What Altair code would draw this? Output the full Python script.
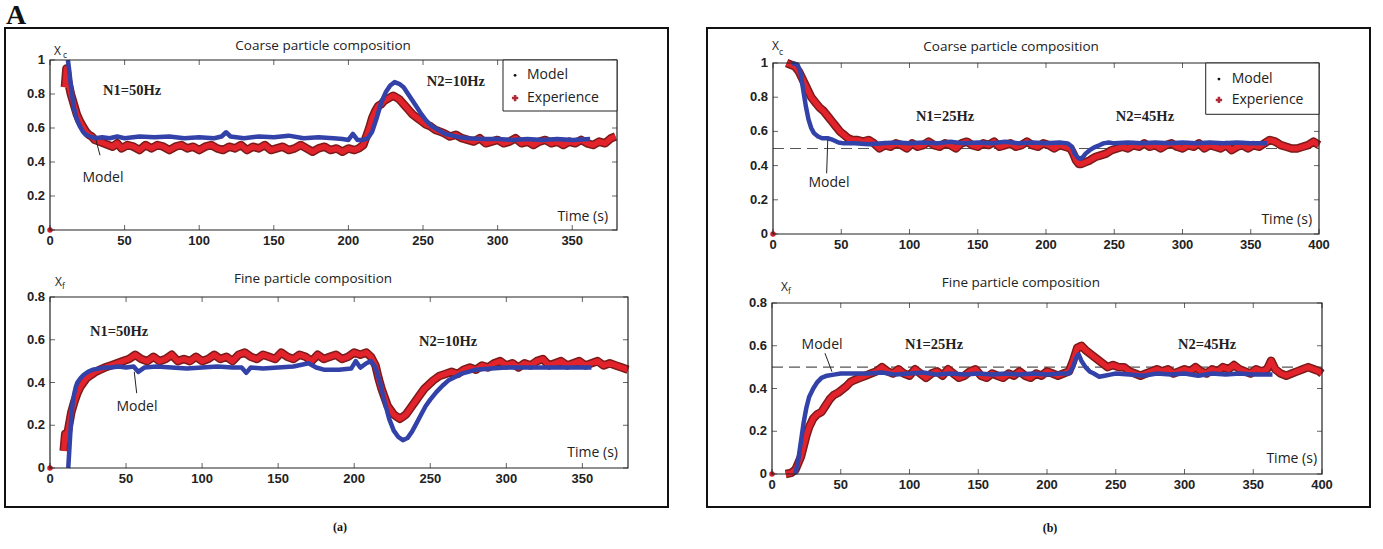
import altair as alt
import pandas as pd

W, H = 1383, 549

# ---------------- data ----------------
# (a) coarse particle composition, N1=50Hz -> N2=10Hz
A_C_EXP_T = [10, 11, 12, 14, 16, 18, 20, 22, 24, 26, 28, 30, 33, 36, 39, 42, 45, 48, 52, 56, 60, 64, 68, 72, 76, 80,
             84, 88, 92, 96, 100, 104, 108, 112, 116, 120, 124, 128, 132, 136, 140, 144, 148, 152, 156, 160, 164, 168,
             172, 176, 180, 184, 188, 192, 196, 200, 204, 207, 210, 212, 214, 216, 218, 220, 222, 224, 226, 228, 230,
             232, 234, 236, 238, 240, 243, 246, 249, 252, 255, 258, 261, 264, 268, 272, 276, 280, 284, 288, 292, 296,
             300, 304, 308, 312, 316, 320, 324, 328, 332, 336, 340, 344, 348, 352, 356, 360, 364, 368, 372, 376, 379]
A_C_EXP_V = [0.84, 0.95, 0.88, 0.80, 0.74, 0.68, 0.64, 0.61, 0.58, 0.56, 0.55, 0.53, 0.52, 0.51, 0.50, 0.49, 0.51,
             0.48, 0.50, 0.49, 0.47, 0.50, 0.48, 0.50, 0.49, 0.47, 0.49, 0.50, 0.48, 0.49, 0.47, 0.49, 0.50, 0.48,
             0.47, 0.49, 0.48, 0.50, 0.47, 0.49, 0.48, 0.50, 0.47, 0.48, 0.49, 0.47, 0.48, 0.50, 0.48, 0.46, 0.48,
             0.49, 0.47, 0.48, 0.46, 0.48, 0.47, 0.48, 0.50, 0.55, 0.60, 0.66, 0.70, 0.73, 0.74, 0.76, 0.77, 0.78,
             0.79, 0.78, 0.77, 0.75, 0.73, 0.71, 0.68, 0.66, 0.64, 0.62, 0.61, 0.59, 0.58, 0.57, 0.55, 0.56, 0.54,
             0.53, 0.52, 0.54, 0.51, 0.52, 0.53, 0.51, 0.52, 0.54, 0.51, 0.52, 0.50, 0.52, 0.53, 0.51, 0.52, 0.50,
             0.52, 0.51, 0.53, 0.51, 0.50, 0.52, 0.51, 0.54, 0.55]
A_C_MOD_T = [12, 13, 14, 15, 16, 18, 20, 22, 24, 27, 30, 35, 40, 45, 50, 60, 70, 80, 90, 100, 110, 115, 118, 121, 130,
             140, 150, 160, 170, 180, 190, 196, 200, 203, 206, 210, 213, 216, 219, 222, 225, 228, 231, 234, 237, 240,
             243, 246, 249, 252, 256, 260, 265, 270, 275, 280, 290, 300, 310, 320, 330, 340, 350, 362]
A_C_MOD_V = [1.0, 0.93, 0.85, 0.78, 0.72, 0.65, 0.61, 0.58, 0.56, 0.55, 0.54, 0.545, 0.54, 0.55, 0.54, 0.55, 0.545,
             0.55, 0.54, 0.545, 0.54, 0.55, 0.575, 0.55, 0.54, 0.55, 0.545, 0.555, 0.54, 0.545, 0.54, 0.535, 0.53,
             0.565, 0.53, 0.53, 0.54, 0.58, 0.66, 0.75, 0.81, 0.85, 0.87, 0.86, 0.84, 0.80, 0.76, 0.72, 0.68, 0.645,
             0.61, 0.59, 0.565, 0.555, 0.545, 0.54, 0.535, 0.535, 0.53, 0.535, 0.53, 0.535, 0.53, 0.535]

# (a) fine particle composition
A_F_EXP_T = [9, 10, 11, 12, 13, 14, 16, 18, 20, 22, 24, 26, 28, 30, 33, 36, 40, 44, 48, 52, 56, 60, 64, 68, 72, 76, 80,
             84, 88, 92, 96, 100, 104, 108, 112, 116, 120, 124, 128, 132, 136, 140, 144, 148, 152, 156, 160, 164, 168,
             172, 176, 180, 184, 188, 192, 196, 200, 204, 208, 211, 214, 216, 218, 220, 222, 224, 226, 228, 230, 232,
             234, 236, 238, 240, 243, 246, 249, 252, 256, 260, 264, 268, 272, 276, 280, 284, 288, 292, 296, 300, 304,
             308, 312, 316, 320, 324, 328, 332, 336, 340, 344, 348, 352, 356, 360, 364, 368, 372, 376, 380]
A_F_EXP_V = [0.08, 0.16, 0.13, 0.18, 0.22, 0.26, 0.31, 0.35, 0.38, 0.40, 0.42, 0.43, 0.44, 0.45, 0.46, 0.47, 0.48,
             0.49, 0.50, 0.51, 0.53, 0.51, 0.50, 0.52, 0.50, 0.51, 0.53, 0.50, 0.51, 0.50, 0.52, 0.50, 0.51, 0.53,
             0.51, 0.52, 0.50, 0.53, 0.54, 0.52, 0.51, 0.53, 0.52, 0.51, 0.54, 0.52, 0.51, 0.53, 0.52, 0.50, 0.53,
             0.51, 0.52, 0.53, 0.51, 0.52, 0.54, 0.53, 0.54, 0.52, 0.48, 0.42, 0.37, 0.33, 0.29, 0.27, 0.25, 0.24,
             0.23, 0.24, 0.25, 0.27, 0.29, 0.31, 0.34, 0.37, 0.39, 0.41, 0.43, 0.44, 0.45, 0.44, 0.46, 0.47, 0.46,
             0.48, 0.47, 0.49, 0.50, 0.48, 0.49, 0.47, 0.49, 0.48, 0.50, 0.51, 0.48, 0.49, 0.50, 0.48, 0.49, 0.50,
             0.48, 0.49, 0.50, 0.48, 0.49, 0.48, 0.47, 0.46]
A_F_MOD_T = [12, 13, 14, 15, 16, 17, 18, 20, 22, 25, 28, 32, 36, 40, 45, 50, 55, 58, 62, 70, 80, 90, 100, 110, 120,
             126, 129, 132, 140, 150, 160, 170, 175, 180, 190, 198, 201, 204, 208, 211, 214, 217, 220, 223, 226, 229,
             232, 235, 238, 241, 244, 247, 250, 254, 258, 262, 266, 270, 275, 280, 290, 300, 310, 320, 330, 340, 350,
             356]
A_F_MOD_V = [0.0, 0.12, 0.24, 0.31, 0.35, 0.38, 0.40, 0.42, 0.435, 0.45, 0.46, 0.465, 0.47, 0.47, 0.475, 0.47, 0.475,
             0.45, 0.47, 0.475, 0.47, 0.465, 0.47, 0.475, 0.47, 0.47, 0.445, 0.47, 0.465, 0.47, 0.475, 0.49, 0.47,
             0.46, 0.46, 0.465, 0.50, 0.47, 0.49, 0.50, 0.47, 0.40, 0.31, 0.23, 0.175, 0.145, 0.13, 0.14, 0.17, 0.21,
             0.25, 0.29, 0.32, 0.355, 0.385, 0.41, 0.425, 0.44, 0.45, 0.46, 0.465, 0.47, 0.47, 0.47, 0.47, 0.47,
             0.47, 0.47]

# (b) coarse particle composition, N1=25Hz -> N2=45Hz
B_C_EXP_T = [10, 13, 16, 19, 22, 25, 28, 31, 34, 37, 40, 43, 46, 49, 52, 55, 58, 62, 66, 70, 74, 78, 82, 86, 90, 94,
             98, 102, 106, 110, 114, 118, 122, 126, 130, 134, 138, 142, 146, 150, 154, 158, 162, 166, 170, 174, 178,
             182, 186, 190, 194, 198, 202, 206, 210, 214, 218, 220, 222, 224, 226, 229, 232, 236, 240, 244, 248, 252,
             256, 260, 264, 268, 272, 276, 280, 284, 288, 292, 296, 300, 304, 308, 312, 316, 320, 324, 328, 332, 336,
             340, 344, 348, 352, 356, 360, 364, 368, 372, 376, 380, 384, 388, 392, 396, 400]
B_C_EXP_V = [1.0, 0.99, 0.98, 0.95, 0.90, 0.85, 0.80, 0.77, 0.74, 0.72, 0.69, 0.66, 0.63, 0.60, 0.58, 0.56, 0.55,
             0.55, 0.54, 0.55, 0.53, 0.50, 0.52, 0.51, 0.53, 0.52, 0.50, 0.53, 0.51, 0.52, 0.54, 0.52, 0.51, 0.53,
             0.52, 0.50, 0.53, 0.54, 0.52, 0.51, 0.53, 0.52, 0.54, 0.51, 0.52, 0.53, 0.51, 0.52, 0.54, 0.52, 0.51,
             0.53, 0.52, 0.50, 0.52, 0.51, 0.50, 0.47, 0.43, 0.41, 0.41, 0.42, 0.43, 0.45, 0.46, 0.47, 0.49, 0.50,
             0.51, 0.50, 0.52, 0.51, 0.53, 0.51, 0.52, 0.50, 0.52, 0.53, 0.51, 0.50, 0.52, 0.51, 0.53, 0.50, 0.52,
             0.51, 0.50, 0.52, 0.49, 0.51, 0.52, 0.50, 0.52, 0.51, 0.53, 0.55, 0.54, 0.52, 0.51, 0.50, 0.50, 0.51,
             0.52, 0.54, 0.52]
B_C_MOD_T = [14, 18, 20, 22, 24, 26, 28, 30, 33, 36, 40, 44, 48, 52, 56, 60, 70, 80, 90, 100, 110, 120, 130, 140, 150,
             160, 170, 180, 190, 200, 210, 216, 219, 221, 223, 225, 227, 229, 232, 235, 238, 242, 246, 250, 260, 270,
             280, 290, 300, 310, 320, 330, 340, 350, 362]
B_C_MOD_V = [1.0, 0.99, 0.95, 0.85, 0.75, 0.67, 0.62, 0.59, 0.57, 0.56, 0.56, 0.55, 0.535, 0.53, 0.53, 0.53, 0.525,
             0.53, 0.535, 0.53, 0.535, 0.53, 0.54, 0.53, 0.535, 0.53, 0.54, 0.53, 0.535, 0.53, 0.535, 0.53, 0.51,
             0.47, 0.45, 0.44, 0.45, 0.47, 0.49, 0.505, 0.515, 0.53, 0.535, 0.53, 0.535, 0.53, 0.535, 0.53, 0.535,
             0.53, 0.535, 0.53, 0.535, 0.53, 0.53]

# (b) fine particle composition
B_F_EXP_T = [10, 14, 17, 19, 21, 23, 25, 27, 30, 33, 36, 39, 42, 45, 48, 51, 54, 57, 60, 64, 68, 72, 76, 80, 84, 88,
             92, 96, 100, 104, 108, 112, 116, 120, 124, 128, 132, 136, 140, 144, 148, 152, 156, 160, 164, 168, 172,
             176, 180, 184, 188, 192, 196, 200, 204, 208, 212, 216, 219, 222, 225, 228, 232, 236, 240, 244, 248, 252,
             256, 260, 264, 268, 272, 276, 280, 284, 288, 292, 296, 300, 304, 308, 312, 316, 320, 324, 328, 332, 336,
             340, 344, 348, 352, 356, 360, 363, 366, 370, 374, 378, 382, 386, 390, 394, 398, 400]
B_F_EXP_V = [0.0, 0.005, 0.02, 0.05, 0.08, 0.13, 0.18, 0.22, 0.26, 0.28, 0.29, 0.32, 0.35, 0.37, 0.38, 0.395, 0.41,
             0.43, 0.44, 0.45, 0.46, 0.47, 0.48, 0.50, 0.48, 0.47, 0.49, 0.47, 0.46, 0.49, 0.47, 0.45, 0.47, 0.48,
             0.46, 0.49, 0.47, 0.45, 0.46, 0.48, 0.49, 0.46, 0.45, 0.47, 0.46, 0.45, 0.47, 0.46, 0.48, 0.46, 0.45,
             0.47, 0.46, 0.48, 0.47, 0.46, 0.47, 0.48, 0.53, 0.59, 0.60, 0.58, 0.56, 0.54, 0.52, 0.50, 0.51, 0.50,
             0.50, 0.48, 0.47, 0.46, 0.47, 0.48, 0.49, 0.48, 0.49, 0.47, 0.48, 0.49, 0.48, 0.50, 0.48, 0.47, 0.49,
             0.48, 0.50, 0.49, 0.51, 0.49, 0.48, 0.47, 0.49, 0.48, 0.49, 0.53, 0.49, 0.47, 0.46, 0.47, 0.48, 0.49,
             0.50, 0.49, 0.48, 0.47]
B_F_MOD_T = [17, 19, 21, 23, 25, 27, 30, 33, 36, 40, 45, 50, 60, 70, 80, 90, 100, 110, 120, 130, 140, 150, 160, 170,
             180, 190, 200, 210, 216, 219, 221, 223, 225, 228, 231, 234, 238, 242, 246, 250, 260, 270, 280, 290, 300,
             310, 320, 330, 340, 350, 364]
B_F_MOD_V = [0.0, 0.06, 0.15, 0.24, 0.31, 0.36, 0.40, 0.43, 0.45, 0.46, 0.465, 0.47, 0.47, 0.47, 0.475, 0.465, 0.47,
             0.475, 0.465, 0.47, 0.465, 0.47, 0.465, 0.47, 0.465, 0.47, 0.465, 0.47, 0.47, 0.50, 0.54, 0.56, 0.53,
             0.50, 0.48, 0.47, 0.455, 0.46, 0.465, 0.47, 0.465, 0.46, 0.47, 0.465, 0.47, 0.46, 0.47, 0.465, 0.47,
             0.465, 0.465]

Y_TICKS_C = [0, 0.2, 0.4, 0.6, 0.8, 1]
Y_TICKS_F = [0, 0.2, 0.4, 0.6, 0.8]

# ---------------- styling ----------------
AX_FONT = "Liberation Sans"
TXT_FONT = "Open Sans"
SERIF = "Liberation Serif"
INK = "#222222"
RED, RED_DARK = "#e2232b", "#7d1a1a"
BLUE = "#3242a8"
ONE = pd.DataFrame({"k": [0]})


def panel(exp_t, exp_v, mod_t, mod_v, xmax, ymax, xr, yr, yticks, title, ylab, texts, model, leader, time_pos,
          legend=None, dashed=False):
    xs = alt.Scale(domain=[0, xmax], range=xr, nice=False, zero=False)
    ys = alt.Scale(domain=[0, ymax], range=yr, nice=False, zero=False)
    xticks = list(range(0, xmax + 1, 50))

    def XD(d):
        return alt.X(datum=d, scale=xs, axis=None)

    def YD(d):
        return alt.Y(datum=d, scale=ys, axis=None)

    xf = alt.X("t:Q", scale=xs, axis=None)
    yf = alt.Y("v:Q", scale=ys, axis=None)

    layers = []
    tx = pd.DataFrame({"t": xticks})
    ty = pd.DataFrame({"v": yticks})
    # tick labels placed through the scales
    layers.append(alt.Chart(tx).mark_text(font=AX_FONT, fontSize=13, fontWeight="bold", color=INK, align="center",
                                          baseline="top", dy=5).encode(
        x=xf, y=YD(0), text=alt.Text("t:Q", format="~g")))
    layers.append(alt.Chart(ty).mark_text(font=AX_FONT, fontSize=13, fontWeight="bold", color=INK, align="right",
                                          baseline="middle", dx=-5).encode(
        x=XD(0), y=yf, text=alt.Text("v:Q", format="~g")))
    # inward ticks on all four sides
    layers.append(alt.Chart(tx).mark_tick(orient="vertical", size=5, thickness=1, color=INK, yOffset=-2.5).encode(
        x=xf, y=YD(0)))
    layers.append(alt.Chart(tx).mark_tick(orient="vertical", size=5, thickness=1, color=INK, yOffset=2.5).encode(
        x=xf, y=YD(ymax)))
    layers.append(alt.Chart(ty).mark_tick(orient="horizontal", size=5, thickness=1, color=INK, xOffset=2.5).encode(
        x=XD(0), y=yf))
    layers.append(alt.Chart(ty).mark_tick(orient="horizontal", size=5, thickness=1, color=INK, xOffset=-2.5).encode(
        x=XD(xmax), y=yf))
    if dashed:
        layers.append(alt.Chart(ONE).mark_rule(strokeDash=[11, 6], color="#555555", strokeWidth=1.2).encode(
            x=XD(0), x2=alt.datum(xmax), y=YD(0.5)))
    exp = alt.Chart(pd.DataFrame({"t": exp_t, "v": exp_v}))
    mod = alt.Chart(pd.DataFrame({"t": mod_t, "v": mod_v}))
    layers.append(exp.mark_line(color=RED_DARK, strokeWidth=8.5, strokeJoin="round").encode(x=xf, y=yf))
    layers.append(exp.mark_line(color=RED, strokeWidth=5.5, strokeJoin="round").encode(x=xf, y=yf))
    layers.append(mod.mark_line(color=BLUE, strokeWidth=4.5, strokeJoin="round").encode(x=xf, y=yf))
    # origin dot
    layers.append(alt.Chart(ONE).mark_point(filled=True, color="#d0202a", size=30, opacity=1).encode(
        x=XD(0), y=YD(0)))
    # frame
    layers.append(alt.Chart(ONE).mark_rect(fillOpacity=0, stroke=INK, strokeWidth=1.2).encode(
        x=XD(0), x2=alt.datum(xmax), y=YD(0), y2=alt.datum(ymax)))
    # title
    layers.append(alt.Chart(ONE).mark_text(text=title[0], font=TXT_FONT, fontSize=13.5, color=INK, align="center",
                                           baseline="middle").encode(x=XD(title[1]), y=YD(title[2])))
    # y label with subscript
    layers.append(alt.Chart(ONE).mark_text(text="X", font=TXT_FONT, fontSize=12, color=INK, align="left",
                                           baseline="middle").encode(x=XD(ylab[1]), y=YD(ylab[2])))
    layers.append(alt.Chart(ONE).mark_text(text=ylab[0], font=TXT_FONT, fontSize=8.5, color=INK, align="left",
                                           baseline="middle").encode(x=XD(ylab[3]), y=YD(ylab[4])))
    # frequency annotations
    for s, t, v in texts:
        layers.append(alt.Chart(ONE).mark_text(text=s, font=SERIF, fontSize=14.5, fontWeight="bold", color=INK,
                                               align="center", baseline="middle").encode(x=XD(t), y=YD(v)))
    # Model label + leader line
    layers.append(alt.Chart(ONE).mark_text(text="Model", font=TXT_FONT, fontSize=14, color=INK, align="center",
                                           baseline="middle").encode(x=XD(model[0]), y=YD(model[1])))
    layers.append(alt.Chart(ONE).mark_rule(color=INK, strokeWidth=1).encode(
        x=XD(leader[0]), y=YD(leader[1]), x2=alt.datum(leader[2]), y2=alt.datum(leader[3])))
    # Time label
    layers.append(alt.Chart(ONE).mark_text(text="Time (s)", font=TXT_FONT, fontSize=14, color=INK, align="right",
                                           baseline="middle").encode(x=XD(time_pos[0]), y=YD(time_pos[1])))
    if legend:
        t0, t1, v0, v1, tm, tt, vm, ve = legend
        layers.append(alt.Chart(ONE).mark_rect(fill="white", stroke=INK, strokeWidth=1).encode(
            x=XD(t0), x2=alt.datum(t1), y=YD(v0), y2=alt.datum(v1)))
        layers.append(alt.Chart(ONE).mark_point(filled=True, color="#111111", size=8, opacity=1).encode(
            x=XD(tm), y=YD(vm)))
        layers.append(alt.Chart(ONE).mark_point(shape="cross", filled=True, color="#b02a35", size=40,
                                                opacity=1).encode(x=XD(tm), y=YD(ve)))
        layers.append(alt.Chart(ONE).mark_text(text="Model", font=TXT_FONT, fontSize=14, color=INK, align="left",
                                               baseline="middle").encode(x=XD(tt), y=YD(vm)))
        layers.append(alt.Chart(ONE).mark_text(text="Experience", font=TXT_FONT, fontSize=14, color=INK,
                                               align="left", baseline="middle").encode(x=XD(tt), y=YD(ve)))
    return alt.layer(*layers)


p_ac = panel(A_C_EXP_T, A_C_EXP_V, A_C_MOD_T, A_C_MOD_V, 380, 1, [50, 617], [230, 60], Y_TICKS_C,
             ("Coarse particle composition", 183, 1.082), ("c", 2.7, 1.053, 8.7, 1.03),
             [("N1=50Hz", 55, 0.82), ("N2=10Hz", 272, 0.87)], (35.5, 0.305), (33.5, 0.44, 30.8, 0.53),
             (374, 0.078), legend=(303.6, 380, 0.70, 1.0, 311.7, 319.7, 0.91, 0.776))
p_af = panel(A_F_EXP_T, A_F_EXP_V, A_F_MOD_T, A_F_MOD_V, 380, 0.8, [50, 628], [468, 297], Y_TICKS_F,
             ("Fine particle composition", 172.9, 0.884), ("f", 3.3, 0.868, 7.9, 0.851),
             [("N1=50Hz", 45.4, 0.638), ("N2=10Hz", 261.7, 0.59)], (57.2, 0.287), (57.0, 0.35, 55.4, 0.45),
             (373.4, 0.072))
p_bc = panel(B_C_EXP_T, B_C_EXP_V, B_C_MOD_T, B_C_MOD_V, 400, 1, [773, 1319], [234, 63], Y_TICKS_C,
             ("Coarse particle composition", 174.4, 1.095), ("c", -0.7, 1.099, 4.4, 1.066),
             [("N1=25Hz", 126, 0.686), ("N2=45Hz", 272.5, 0.686)], (41, 0.298), (40.1, 0.55, 39.3, 0.355),
             (394.9, 0.082), legend=(317, 400, 0.70, 1.0, 326.7, 336, 0.906, 0.784), dashed=True)
p_bf = panel(B_F_EXP_T, B_F_EXP_V, B_F_MOD_T, B_F_MOD_V, 400, 0.8, [772, 1322], [474, 303], Y_TICKS_F,
             ("Fine particle composition", 181, 0.894), ("f", 6.5, 0.873, 11.6, 0.856),
             [("N1=25Hz", 117.8, 0.604), ("N2=45Hz", 316.4, 0.604)], (36.4, 0.604), (38.5, 0.565, 43.6, 0.479),
             (396.4, 0.07), dashed=True)

# figure decorations (outer boxes and panel letters)
deco = [
    alt.Chart(ONE).mark_rect(fillOpacity=0, stroke="#111111", strokeWidth=2).encode(
        x=alt.value(5), x2=alt.value(668), y=alt.value(28), y2=alt.value(507)),
    alt.Chart(ONE).mark_rect(fillOpacity=0, stroke="#111111", strokeWidth=2).encode(
        x=alt.value(707), x2=alt.value(1370), y=alt.value(28), y2=alt.value(507)),
    alt.Chart(ONE).mark_text(text="A", font=SERIF, fontSize=28, fontWeight="bold", color="#111111", align="left",
                             baseline="alphabetic").encode(x=alt.value(6), y=alt.value(24)),
    alt.Chart(ONE).mark_text(text="(a)", font=SERIF, fontSize=12, fontWeight="bold", color="#111111",
                             align="center", baseline="middle").encode(x=alt.value(340), y=alt.value(527)),
    alt.Chart(ONE).mark_text(text="(b)", font=SERIF, fontSize=12, fontWeight="bold", color="#111111",
                             align="center", baseline="middle").encode(x=alt.value(1050), y=alt.value(528)),
]

chart = alt.layer(p_ac, p_af, p_bc, p_bf, *deco).resolve_scale(
    x="independent", y="independent"
).properties(
    width=W, height=H, padding=0, autosize=alt.AutoSizeParams(type="none"), background="white"
).configure_view(strokeWidth=0)

chart.save("out.html", embed_options={"renderer": "svg", "actions": False})
